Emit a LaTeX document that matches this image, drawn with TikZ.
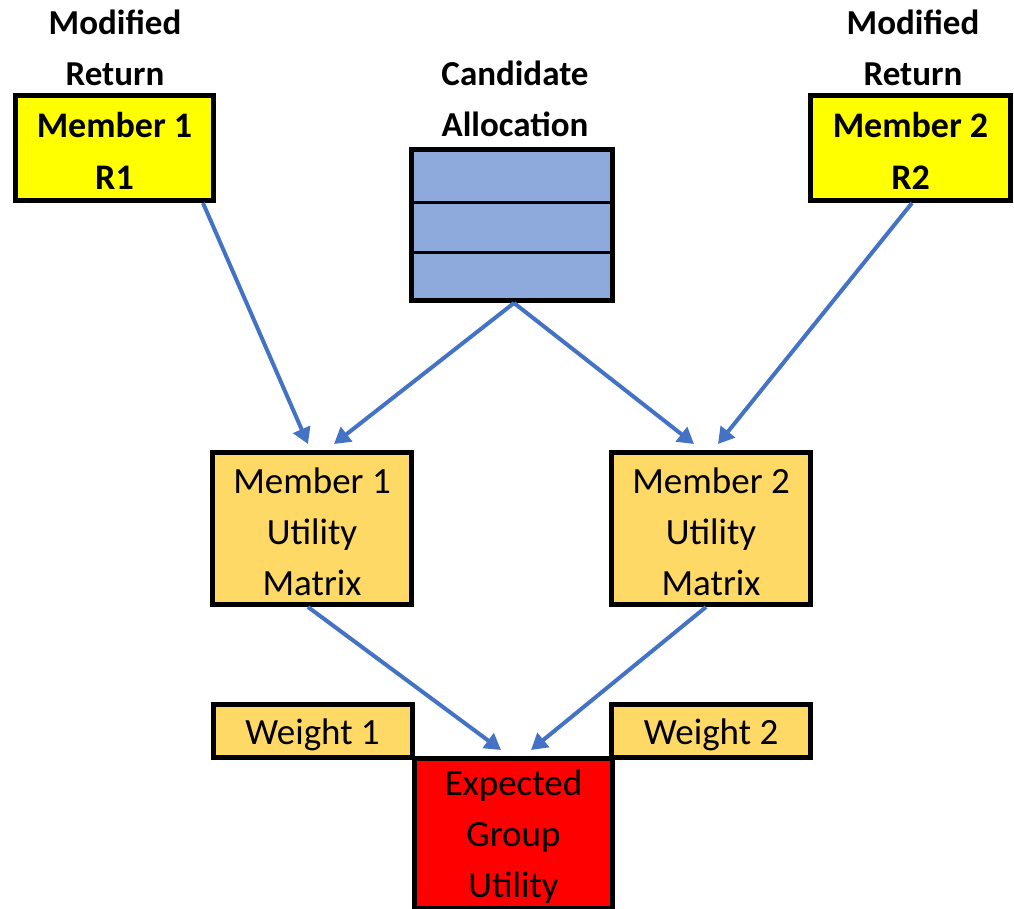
\documentclass[tikz,border=0pt]{standalone}
\usepackage{fontspec}
\setmainfont{Carlito}
\usetikzlibrary{arrows.meta}
\definecolor{boxyellow}{HTML}{FFFF00}
\definecolor{allocblue}{HTML}{8EA9DB}
\definecolor{utilgold}{HTML}{FFD966}
\definecolor{groupred}{HTML}{FF0000}
\definecolor{arrowblue}{HTML}{4472C4}
\tikzset{
  every node/.style={font=\fontsize{37}{51}\selectfont, inner sep=0pt, align=center},
  framebox/.style={draw=black, line width=5pt, rectangle},
  boldtext/.style={font=\bfseries\fontsize{36}{52}\selectfont},
  toplabel/.style={font=\bfseries\fontsize{35}{51}\selectfont},
  flow/.style={draw=arrowblue, line width=4pt, -{Triangle[length=16pt,width=18pt]}},
}
\begin{document}
\begin{tikzpicture}[x=1pt,y=-1pt]
\useasboundingbox (0,0) rectangle (1014,908);

% top labels
\node[toplabel] (lab1) at (115,48) {Modified\\Return};
\node[toplabel] (lab2) at (515,99) {Candidate\\Allocation};
\node[toplabel] (lab3) at (913,48) {Modified\\Return};

% member return boxes
\node[framebox, fill=boxyellow, minimum width=198pt, minimum height=105pt] (m1) at (114.5,148) {};
\node[boldtext] (m1t) at ([yshift=-3pt]m1.center) {Member 1\\R1};
\node[framebox, fill=boxyellow, minimum width=200pt, minimum height=105pt] (m2) at (910.5,148) {};
\node[boldtext] (m2t) at ([yshift=-3pt]m2.center) {Member 2\\R2};

% candidate allocation
\node[framebox, fill=allocblue, minimum width=201pt, minimum height=151pt] (cand) at (512,225) {};
\draw[line width=3pt] (cand.west |- 0,202) coordinate (c1a) -- (cand.east |- 0,202) coordinate (c1b);
\draw[line width=3pt] (cand.west |- 0,252) coordinate (c2a) -- (cand.east |- 0,252) coordinate (c2b);

% utility matrices
\node[framebox, fill=utilgold, minimum width=199pt, minimum height=152pt] (u1) at (312,528.5) {};
\node (u1t) at ([yshift=-3pt]u1.center) {Member 1\\Utility\\Matrix};
\node[framebox, fill=utilgold, minimum width=199pt, minimum height=152pt] (u2) at (711,528.5) {};
\node (u2t) at ([yshift=-3pt]u2.center) {Member 2\\Utility\\Matrix};

% weights and result
\node[framebox, fill=utilgold, minimum width=199pt, minimum height=53pt] (w1) at (312.5,730.5) {};
\node (w1t) at ([yshift=-4pt]w1.center) {Weight 1};
\node[framebox, fill=utilgold, minimum width=199pt, minimum height=53pt] (w2) at (711,730.5) {};
\node (w2t) at ([yshift=-4pt]w2.center) {Weight 2};
\node[framebox, fill=groupred, minimum width=198pt, minimum height=150pt] (exp) at (513.5,833) {};
\node (expt) at ([yshift=-4pt]exp.center) {Expected\\Group\\Utility};

% arrow endpoints
\coordinate (s1) at (203,203);
\coordinate (s2) at (912,203);
\coordinate (sc) at (514,303);
\coordinate (su1) at (308,607);
\coordinate (su2) at (706,607);
\coordinate (t1) at (308,444);
\coordinate (t2) at (334,444);
\coordinate (t3) at (694,444);
\coordinate (t4) at (718,444);
\coordinate (t5) at (501,750);
\coordinate (t6) at (531,750);

\draw[flow] (s1) -- (t1);
\draw[flow] (sc) -- (t2);
\draw[flow] (sc) -- (t3);
\draw[flow] (s2) -- (t4);
\draw[flow] (su1) -- (t5);
\draw[flow] (su2) -- (t6);
\end{tikzpicture}
\end{document}
